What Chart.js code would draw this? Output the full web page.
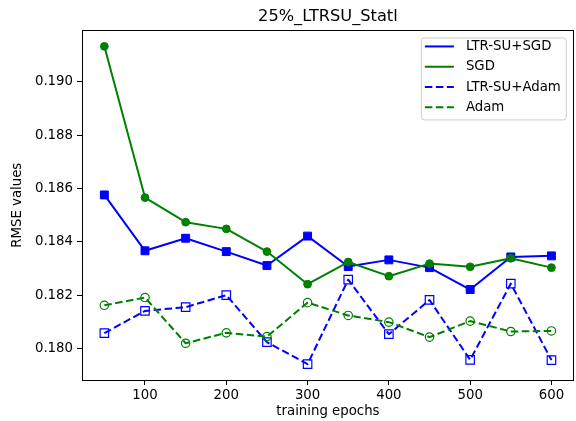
<!DOCTYPE html>
<html>
<head>
<meta charset="utf-8">
<title>25%_LTRSU_Statl</title>
<script src="https://cdn.jsdelivr.net/npm/chart.js@4.4.0/dist/chart.umd.min.js"></script>
<style>
  html, body { margin: 0; padding: 0; background: #fff; overflow: hidden; }
  #wrap { width: 581px; height: 421px; }
</style>
</head>
<body>
<div id="wrap"><canvas id="rmseChart" width="581" height="421"></canvas></div>
<script>
// data
const epochs = [50, 100, 150, 200, 250, 300, 350, 400, 450, 500, 550, 600];
const ltrSgd = [0.18576, 0.18367, 0.18414, 0.18364, 0.18312, 0.18422, 0.18308, 0.18333, 0.18304, 0.18222, 0.18344, 0.18348];
const sgd = [0.19132, 0.18566, 0.18474, 0.18449, 0.18364, 0.18242, 0.18325, 0.18272, 0.18319, 0.18307, 0.18339, 0.18304];
const ltrAdam = [0.18059, 0.18142, 0.18156, 0.18201, 0.18025, 0.17943, 0.18259, 0.18055, 0.18183, 0.17959, 0.18244, 0.17958];
const adam = [0.18163, 0.18192, 0.18021, 0.18060, 0.18046, 0.18173, 0.18125, 0.18100, 0.18044, 0.18104, 0.18065, 0.18067];
const seriesNames = ['LTR-SU+SGD', 'SGD', 'LTR-SU+Adam', 'Adam'];
const xTicks = [100, 200, 300, 400, 500, 600];
const yTicks = [0.180, 0.182, 0.184, 0.186, 0.188, 0.190];

const BLUE = '#0000ff';
const GREEN = '#008000';
const FONT = 'DejaVu Sans';
const TXT = 13.3;

Chart.defaults.font.family = FONT;
Chart.defaults.color = '#000';

// axis limits with 5% margins like matplotlib
const allY = [].concat(ltrSgd, sgd, ltrAdam, adam);
const yLo = Math.min(...allY), yHi = Math.max(...allY);
const yPad = (yHi - yLo) * 0.05;
const xPad = (epochs[epochs.length - 1] - epochs[0]) * 0.05;

function makeSeries(i, values, color, dashed, shape, filled) {
  return {
    label: seriesNames[i],
    data: epochs.map((e, k) => ({ x: e, y: values[k] })),
    borderColor: color,
    backgroundColor: color,
    borderWidth: 2,
    borderDash: dashed ? [7.5, 3.5] : [],
    borderJoinStyle: 'round',
    pointStyle: shape,
    pointRadius: shape === 'rect' ? (filled ? 5.6 : 6) : (filled ? 3.9 : 4.2),
    pointBorderWidth: filled ? 1 : 1.2,
    pointBorderColor: color,
    pointBackgroundColor: filled ? color : 'rgba(0,0,0,0)',
    tension: 0,
    fill: false,
    order: 3 - i
  };
}

// frame around the axes
const axesFrame = {
  id: 'axesFrame',
  afterDatasetsDraw(chart) {
    const { ctx, chartArea: a } = chart;
    ctx.save();
    ctx.strokeStyle = '#000';
    ctx.lineWidth = 1;
    const l = Math.round(a.left) + 0.5, t = Math.round(a.top) + 0.5;
    const r = Math.round(a.right) - 0.5, b = Math.round(a.bottom) + 0.5;
    ctx.strokeRect(l, t, r - l, b - t);
    ctx.restore();
  }
};

// legend inside upper right like matplotlib
const legendBox = {
  id: 'legendBox',
  afterDraw(chart) {
    const { ctx, chartArea: a } = chart;
    ctx.save();
    ctx.font = TXT + 'px "' + FONT + '"';
    const widest = Math.max(...chart.data.datasets.map(ds => ctx.measureText(ds.label).width));
    const w = 45 + widest + 5, h = 82;
    const x0 = a.right - 8 - w, y0 = a.top + 7;
    ctx.beginPath();
    ctx.roundRect(x0 + 0.5, y0 + 0.5, w, h, 3);
    ctx.fillStyle = 'rgba(255,255,255,0.8)';
    ctx.fill();
    ctx.strokeStyle = '#cccccc';
    ctx.lineWidth = 1;
    ctx.stroke();
    chart.data.datasets.forEach((ds, i) => {
      const y = y0 + 9 + i * 20.3;
      ctx.beginPath();
      ctx.strokeStyle = ds.borderColor;
      ctx.lineWidth = 2;
      ctx.setLineDash(ds.borderDash);
      ctx.moveTo(x0 + 4, y);
      ctx.lineTo(x0 + 33, y);
      ctx.stroke();
      ctx.setLineDash([]);
      ctx.fillStyle = '#000';
      ctx.textBaseline = 'middle';
      ctx.textAlign = 'left';
      ctx.fillText(ds.label, x0 + 45, y);
    });
    ctx.restore();
  }
};

const ctx = document.getElementById('rmseChart').getContext('2d');
new Chart(ctx, {
  type: 'line',
  data: {
    datasets: [
      makeSeries(0, ltrSgd, BLUE, false, 'rect', true),
      makeSeries(1, sgd, GREEN, false, 'circle', true),
      makeSeries(2, ltrAdam, BLUE, true, 'rect', false),
      makeSeries(3, adam, GREEN, true, 'circle', false)
    ]
  },
  options: {
    responsive: false,
    animation: false,
    layout: { padding: 0 },
    plugins: {
      legend: { display: false },
      tooltip: { enabled: false },
      title: {
        display: true,
        text: '25%_LTRSU_Statl',
        fullSize: false,
        color: '#000',
        font: { size: 16.2, weight: 'normal' },
        padding: { top: 7, bottom: 4 }
      }
    },
    scales: {
      x: {
        type: 'linear',
        min: epochs[0] - xPad,
        max: epochs[epochs.length - 1] + xPad,
        afterFit: s => { s.height = 41; },
        afterBuildTicks: s => { s.ticks = xTicks.map(v => ({ value: v })); },
        grid: { drawOnChartArea: false, drawTicks: true, tickLength: 5, tickColor: '#000' },
        border: { display: false },
        ticks: { font: { size: TXT }, padding: 3, maxRotation: 0, autoSkip: false, color: '#000' },
        title: { display: true, text: 'training epochs', color: '#000', font: { size: TXT }, padding: { top: 0, bottom: 1.5 } }
      },
      y: {
        type: 'linear',
        min: yLo - yPad,
        max: yHi + yPad,
        afterFit: s => { s.width = 82; },
        afterBuildTicks: s => { s.ticks = yTicks.map(v => ({ value: v })); },
        grid: { drawOnChartArea: false, drawTicks: true, tickLength: 5, tickColor: '#000' },
        border: { display: false },
        ticks: { font: { size: TXT }, padding: 4, autoSkip: false, color: '#000', callback: v => v.toFixed(3) },
        title: { display: true, text: 'RMSE values', color: '#000', font: { size: TXT }, padding: { top: 10, bottom: 0 } }
      }
    }
  },
  plugins: [axesFrame, legendBox]
});
</script>
</body>
</html>
